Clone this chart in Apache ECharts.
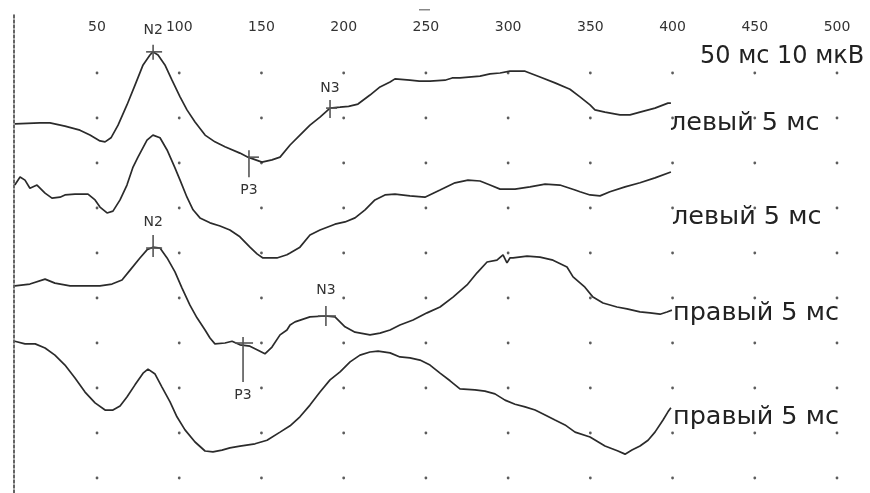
<!DOCTYPE html>
<html><head><meta charset="utf-8">
<script src="https://cdn.jsdelivr.net/npm/echarts@6/dist/echarts.min.js"></script>
<style>html,body{margin:0;padding:0;background:#fff}#c{width:870px;height:493px}</style>
</head><body><div id="c"></div>
<script>
// ---- data (time in ms, amplitude in µV relative to each trace's baseline) ----
const tickLabels = [50, 100, 150, 200, 250, 300, 350, 400, 450, 500];
const gridRows = [0, 10, 20, 30, 40, 50, 60, 70, 80, 90];
const traceNames = ['левый 5 мс', 'левый 5 мс', 'правый 5 мс', 'правый 5 мс'];
const traceOffsets = [80, 60, 40, 20];

const trace1 = [[0,-1.3],[15.3,-1.1],[21.4,-1.1],[30.5,-1.8],[39.6,-2.7],[45.7,-3.8],[51.8,-5.1],[54.9,-5.3],[58.5,-4.4],[62.8,-1.6],[68.2,2.9],[73.1,7.3],[78.0,11.8],[82.2,14.0],[84.0,14.7],[87.1,14.0],[91.3,11.8],[95.6,8.4],[100.5,4.7],[104.7,1.8],[109.6,-0.9],[115.7,-3.8],[121.7,-5.3],[127.8,-6.4],[136.9,-7.8],[141.8,-8.7],[150.3,-9.8],[156.4,-9.3],[161.3,-8.7],[167.4,-6.0],[173.4,-3.8],[179.5,-1.6],[185.6,0.2],[191.7,2.2],[197.8,2.4],[203.0,2.6],[208.7,3.1],[216.0,5.1],[222.1,6.9],[228.2,8.0],[231.2,8.7],[240.3,8.4],[246.0,8.2],[252.5,8.2],[261.6,8.4],[266.0,8.9],[270.7,8.9],[282.9,9.3],[289.0,9.8],[295.1,10.0],[301.1,10.4],[310.3,10.4],[319.4,9.1],[328.5,7.8],[337.6,6.4],[343.7,4.7],[349.8,2.9],[352.8,1.8],[358.9,1.3],[368.0,0.7],[374.1,0.7],[380.2,1.3],[389.3,2.2],[397.2,3.3],[399.0,3.3]];

const trace2 = [[0,5.1],[3.2,6.9],[6.2,6.2],[9.2,4.4],[13.5,5.1],[18.4,3.3],[22.6,2.2],[27.5,2.4],[30.5,2.9],[36.6,3.1],[44.5,3.1],[48.8,1.8],[51.8,0.2],[56.1,-1.1],[59.7,-0.7],[64.0,1.8],[68.2,5.1],[71.9,9.1],[74.9,11.3],[80.4,15.1],[84.0,16.2],[88.3,15.6],[92.6,12.9],[97.4,8.9],[100.5,6.2],[104.7,2.4],[108.4,-0.4],[112.6,-2.2],[118.7,-3.3],[124.8,-4.0],[130.8,-4.9],[136.9,-6.4],[143.0,-8.7],[147.3,-10.2],[150.9,-11.1],[159.4,-11.1],[165.5,-10.4],[167.4,-10.0],[173.4,-8.7],[179.5,-6.0],[185.6,-4.9],[194.7,-3.6],[200.8,-3.1],[206.9,-2.2],[213.0,-0.4],[219.0,1.8],[225.1,2.9],[231.2,3.1],[240.3,2.7],[249.4,2.4],[258.6,4.0],[267.7,5.6],[275.6,6.2],[282.9,6.0],[289.0,5.1],[295.1,4.2],[304.2,4.2],[313.3,4.7],[322.5,5.3],[331.5,5.1],[340.7,4.0],[343.7,3.6],[349.8,2.9],[355.9,2.7],[361.9,3.6],[371.1,4.7],[380.2,5.6],[389.3,6.7],[399.0,8.0]];

const trace3 = [[0,2.7],[9.2,3.1],[18.4,4.2],[24.4,3.3],[33.6,2.7],[42.7,2.7],[51.8,2.7],[59.1,3.1],[65.2,4.0],[70.1,6.2],[76.1,8.9],[80.4,10.7],[84.0,11.3],[88.3,11.1],[92.6,8.9],[97.4,5.8],[101.7,2.2],[106.5,-1.6],[110.8,-4.4],[115.7,-7.1],[118.7,-8.9],[121.7,-10.2],[127.8,-10.0],[132.1,-9.6],[136.9,-10.4],[143.0,-10.7],[147.9,-11.6],[152.1,-12.4],[156.4,-10.9],[161.3,-8.2],[165.5,-7.1],[167.4,-6.0],[170.4,-5.3],[179.5,-4.2],[188.6,-4.0],[194.7,-4.2],[200.8,-6.4],[206.9,-7.6],[216.0,-8.2],[222.1,-7.8],[228.2,-7.1],[234.2,-6.0],[242.2,-4.9],[250.7,-3.3],[258.6,-2.0],[266.5,0.2],[275.0,2.9],[281.1,5.6],[287.2,8.0],[293.2,8.4],[296.9,9.6],[299.3,7.8],[301.1,8.9],[303.0,8.9],[311.5,9.3],[319.4,9.1],[327.3,8.4],[335.8,6.9],[339.5,4.7],[346.7,2.4],[351.6,0.2],[357.7,-1.1],[366.2,-2.0],[372.3,-2.4],[380.2,-3.1],[386.3,-3.3],[392.4,-3.6],[396.6,-3.1],[399.6,-2.7]];

const trace4 = [[0,10.4],[6.2,9.8],[12.4,9.8],[18.4,8.9],[24.4,7.3],[30.5,5.1],[36.6,2.2],[42.7,-0.9],[48.8,-3.3],[54.9,-4.9],[59.7,-4.9],[64.0,-4.0],[68.2,-2.0],[73.1,0.7],[78.0,3.3],[81.0,4.2],[85.3,3.1],[89.5,0.2],[94.4,-3.1],[98.6,-6.4],[103.5,-9.3],[109.6,-12.0],[115.7,-14.0],[120.5,-14.2],[126.0,-13.8],[130.8,-13.3],[136.9,-12.9],[146.1,-12.4],[153.4,-11.6],[161.3,-9.8],[167.4,-8.4],[173.4,-6.4],[179.5,-3.8],[185.6,-0.9],[191.7,1.8],[197.8,3.6],[203.9,5.8],[209.9,7.3],[216.0,8.0],[220.9,8.2],[228.2,7.8],[234.2,6.9],[240.3,6.7],[246.4,6.2],[252.5,5.1],[258.6,3.3],[264.7,1.6],[270.7,-0.2],[279.8,-0.4],[285.9,-0.7],[292.0,-1.3],[298.1,-2.7],[304.2,-3.6],[310.3,-4.2],[316.4,-4.9],[322.5,-6.0],[328.5,-7.1],[334.6,-8.2],[340.7,-9.8],[349.8,-10.9],[358.9,-12.9],[366.8,-14.0],[371.1,-14.7],[375.3,-13.8],[380.2,-12.9],[385.1,-11.6],[389.3,-9.8],[394.2,-7.1],[397.2,-5.3],[399.0,-4.4]];

const traces = [trace1, trace2, trace3, trace4];

const markerTrace = [0, 0, 0, 2, 2, 2];
const markerTimes = [84.1, 142.4, 191.7, 84.1, 189.2, 138.8];
const markerAmps = [14.7, -8.7, 2.2, 11.1, -4.0, -10.0];
const markerLabels = ['N2', 'P3', 'N3', 'N2', 'N3', 'P3'];
const scaleText = '50 мс 10 мкВ';

// ---- styles ----
const markerStyle = [
  {v: [-7, 8], h: [-7, 9], dy: -21},
  {v: [-7, 20], h: [-1, 10], dy: 33},
  {v: [-8, 10], h: [-4, 7], dy: -20},
  {v: [-13, 9], h: [-7, 9], dy: -26},
  {v: [-10, 10], h: [-8, 10], dy: -26},
  {v: [-6, 39], h: [-8, 10], dy: 52}
];
const labelPos = [[670, 123], [672, 217], [673, 313], [673, 417]];
const labelFont = '25.5px "DejaVu Sans"';
const scaleFont = '24px "DejaVu Sans"';
const ink = '#2b2b2b';

const chart = echarts.init(document.getElementById('c'), null, {renderer: 'canvas'});

const dots = [];
tickLabels.forEach(t => gridRows.forEach(r => dots.push([t, r])));

const lineSeries = traces.map((tr, k) => ({
  type: 'line', name: traceNames[k], xAxisIndex: 0, yAxisIndex: 0,
  data: tr.map(([t, a]) => [t, a + traceOffsets[k]]),
  showSymbol: false, symbol: 'none', smooth: false,
  lineStyle: {color: ink, width: 1.7}, silent: true, z: 3
}));

const graphics = traceNames.map((name, k) => ({
  type: 'text', x: labelPos[k][0], y: labelPos[k][1],
  style: {text: name, font: labelFont, fill: '#222', textVerticalAlign: 'middle', textAlign: 'left'}
}));
graphics.push({
  type: 'text', x: 700, y: 57,
  style: {text: scaleText, font: scaleFont, fill: '#222', textVerticalAlign: 'middle', textAlign: 'left'}
});
graphics.push({type: 'rect', shape: {x: 419, y: 9, width: 11, height: 1.5}, style: {fill: '#888'}});

chart.setOption({
  animation: false,
  backgroundColor: '#fff',
  grid: [
    {left: 14.8, right: 33, top: 50.5, bottom: 15},
    {left: 14, right: 855, top: 13, bottom: 0}
  ],
  xAxis: [
    {type: 'value', gridIndex: 0, min: 0, max: 500, interval: 50, position: 'top',
     axisLine: {show: false}, axisTick: {show: false}, splitLine: {show: false},
     axisLabel: {margin: 16, fontSize: 14, fontFamily: 'DejaVu Sans', color: '#333',
       formatter: v => tickLabels.includes(v) ? String(v) : ''}},
    {type: 'value', gridIndex: 1, show: false, min: 0, max: 1}
  ],
  yAxis: [
    {type: 'value', gridIndex: 0, min: 0, max: 95, show: false},
    {type: 'value', gridIndex: 1, min: 0, max: 1, show: true,
     axisLine: {show: true, lineStyle: {color: '#333', width: 1.5, type: [3, 2]}},
     axisTick: {show: false}, axisLabel: {show: false}, splitLine: {show: false}}
  ],
  series: [
    {type: 'scatter', xAxisIndex: 0, yAxisIndex: 0, data: dots, symbol: 'circle', symbolSize: 2.8,
     itemStyle: {color: '#333'}, silent: true, z: 1},
    ...lineSeries,
    {type: 'custom', xAxisIndex: 0, yAxisIndex: 0, silent: true, z: 4,
     data: markerTimes.map((t, i) => [t, markerAmps[i] + traceOffsets[markerTrace[i]]]),
     renderItem: (params, api) => {
       const i = params.dataIndex;
       const p = api.coord([api.value(0), api.value(1)]);
       const s = markerStyle[i];
       return {type: 'group', children: [
         {type: 'line', shape: {x1: p[0], y1: p[1] + s.v[0], x2: p[0], y2: p[1] + s.v[1]}, style: {stroke: '#555', lineWidth: 1.6}},
         {type: 'line', shape: {x1: p[0] + s.h[0], y1: p[1], x2: p[0] + s.h[1], y2: p[1]}, style: {stroke: '#555', lineWidth: 1.6}},
         {type: 'text', x: p[0], y: p[1] + s.dy, style: {text: markerLabels[i], font: '14px "DejaVu Sans"', fill: '#333', align: 'center', verticalAlign: 'middle'}}
       ]};
     }}
  ],
  graphic: graphics
});
</script></body></html>
